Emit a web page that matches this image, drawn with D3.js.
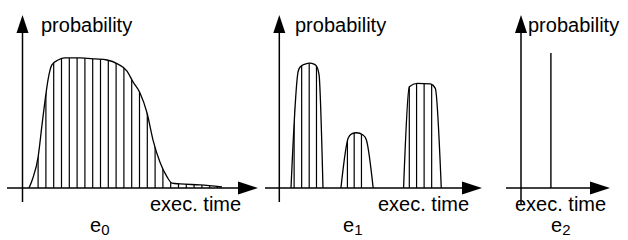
<!DOCTYPE html>
<html>
<head>
<meta charset="utf-8">
<script src="https://cdn.jsdelivr.net/npm/d3@7"></script>
<style>
  body { margin: 0; background: #fff; }
  text { font-family: "Liberation Sans", Arial, sans-serif; fill: #000; }
</style>
</head>
<body>
<svg id="svg1"></svg>
<script>

// labels
var yLabel = "probability";
var xLabel = "exec. time";
var taskNames = ["e", "e", "e"];
var taskSubs = ["0", "1", "2"];

// e0: one wide distribution (time units, probability)
var e0Time = [2.5, 4.0, 6.0, 7.5, 8.7, 9.8, 11.3, 13.7, 16.3, 22.1, 27.9, 32.5, 36.7, 40.2, 42.5, 45.2, 47.9, 50.2, 53.0, 55.6, 57.5, 60.6, 68.3, 76.7];
var e0Prob = [0, 0.059, 0.182, 0.371, 0.518, 0.635, 0.724, 0.753, 0.765, 0.765, 0.759, 0.753, 0.729, 0.688, 0.624, 0.559, 0.441, 0.282, 0.147, 0.065, 0.029, 0.024, 0.018, 0.006];
var e0Hatch = [6, 9, 12, 15, 18, 21, 24, 27, 30, 33, 36, 39, 42, 45, 48, 51, 54, 57, 60, 63, 66, 69, 72, 75];

// e1: three separate peaks
var e1Bump1Time = [4.5, 7.2, 8.0, 9.9, 11.8, 13.3, 14.5, 15.3, 16.8];
var e1Bump1Prob = [0, 0.682, 0.712, 0.729, 0.735, 0.729, 0.712, 0.665, 0];
var e1Bump2Time = [23.7, 26.5, 27.8, 29.7, 32.2, 33.5, 36.1];
var e1Bump2Prob = [0, 0.294, 0.318, 0.325, 0.312, 0.282, 0];
var e1Bump3Time = [47.8, 50.0, 53.0, 58.1, 60.0, 62.3];
var e1Bump3Prob = [0, 0.596, 0.616, 0.612, 0.586, 0];
var e1Hatch = [5.7, 8.6, 11.5, 14.3, 26.2, 28.8, 31.6, 50.0, 52.8, 55.7, 58.6];

// e2: a single exact execution time
var e2SpikeTime = [11.5];
var e2SpikeProb = [0.794];

var width = 628, height = 240;
var pxPerUnit = 2.6;
var baseY = 188;

var svg = d3.select("#svg1")
    .attr("width", width)
    .attr("height", height);

var y = d3.scaleLinear()
    .domain([0, 1])
    .range([baseY, 18]);

// panel layout: y axis position, x axis extent, text positions
var layout = [
  {axisX: 22.5, xStart: 7, xEnd: 258, yBottom: 202, probX: 41, timeX: 150, nameX: 90},
  {axisX: 279.3, xStart: 265, xEnd: 482, yBottom: 202, probX: 295, timeX: 378, nameX: 343},
  {axisX: 521, xStart: 506, xEnd: 610, yBottom: 205, probX: 528, timeX: 515, nameX: 551}
];

function makeX(l) {
  return d3.scaleLinear()
    .domain([0, (l.xEnd - l.axisX) / pxPerUnit])
    .range([l.axisX, l.xEnd]);
}

var xs = layout.map(makeX);

function zip(ts, ps) {
  return ts.map(function(t, i) { return [t, ps[i]]; });
}

var curves = [
  [zip(e0Time, e0Prob)],
  [zip(e1Bump1Time, e1Bump1Prob), zip(e1Bump2Time, e1Bump2Prob), zip(e1Bump3Time, e1Bump3Prob)],
  []
];
var hatches = [e0Hatch, e1Hatch, []];

layout.forEach(function(l, i) {
  var x = xs[i];
  var g = svg.append("g");

  var line = d3.line()
      .x(function(d) { return x(d[0]); })
      .y(function(d) { return y(d[1]); })
      .curve(d3.curveMonotoneX);
  var area = d3.area()
      .x(function(d) { return x(d[0]); })
      .y0(y(0))
      .y1(function(d) { return y(d[1]); })
      .curve(d3.curveMonotoneX);

  // clip for hatching: area under each curve
  var clipId = "clip" + i;
  var clip = svg.append("clipPath").attr("id", clipId);
  curves[i].forEach(function(c) {
    clip.append("path").attr("d", area(c));
  });

  g.append("g")
      .attr("clip-path", "url(#" + clipId + ")")
    .selectAll("line")
    .data(hatches[i])
    .enter()
    .append("line")
      .attr("x1", function(d) { return x(d); })
      .attr("x2", function(d) { return x(d); })
      .attr("y1", y(0))
      .attr("y2", y(1))
      .style("stroke", "#000")
      .style("stroke-width", 1.2);

  g.selectAll("path.curve")
    .data(curves[i])
    .enter()
    .append("path")
      .attr("class", "curve")
      .attr("d", line)
      .style("fill", "none")
      .style("stroke", "#000")
      .style("stroke-width", 1.3);

  // axes
  g.append("line")
      .attr("x1", l.axisX).attr("x2", l.axisX)
      .attr("y1", l.yBottom).attr("y2", 30)
      .style("stroke", "#000").style("stroke-width", 1.5);
  g.append("line")
      .attr("x1", l.xStart).attr("x2", l.xEnd - 15)
      .attr("y1", baseY).attr("y2", baseY)
      .style("stroke", "#000").style("stroke-width", 1.5);
  g.append("path")
      .attr("d", "M" + l.axisX + ",15L" + (l.axisX - 6) + ",33L" + (l.axisX + 6) + ",33Z")
      .style("fill", "#000");
  g.append("path")
      .attr("d", "M" + l.xEnd + "," + baseY + "L" + (l.xEnd - 20) + "," + (baseY - 6.5) +
                 "L" + (l.xEnd - 20) + "," + (baseY + 6.5) + "Z")
      .style("fill", "#000");

  // texts
  g.append("text")
      .attr("x", l.probX).attr("y", 32)
      .style("font-size", "20px")
      .text(yLabel);
  g.append("text")
      .attr("x", l.timeX).attr("y", 211)
      .style("font-size", "20px")
      .text(xLabel);
  var nm = g.append("text")
      .attr("x", l.nameX).attr("y", 232)
      .style("font-size", "20px")
      .text(taskNames[i]);
  nm.append("tspan")
      .attr("dy", 3)
      .style("font-size", "15px")
      .text(taskSubs[i]);
});

// e2 spike
svg.append("g")
  .selectAll("line")
  .data(zip(e2SpikeTime, e2SpikeProb))
  .enter()
  .append("line")
    .attr("x1", function(d) { return xs[2](d[0]); })
    .attr("x2", function(d) { return xs[2](d[0]); })
    .attr("y1", y(0))
    .attr("y2", function(d) { return y(d[1]); })
    .style("stroke", "#000")
    .style("stroke-width", 1.4);

</script>
</body>
</html>
